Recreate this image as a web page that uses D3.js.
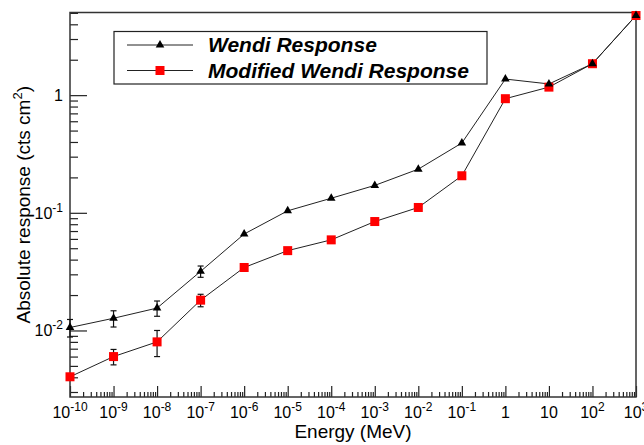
<!DOCTYPE html>
<html>
<head>
<meta charset="utf-8">
<script src="https://cdn.jsdelivr.net/npm/d3@7"></script>
<style>
    body { margin: 0; background: #fff; }
    text { font-family: "Liberation Sans", Arial, Helvetica, sans-serif; }
</style>
</head>
<body>
<script>
//  Chart size and plot frame
var w = 644;
var h = 445;
var padLeft = 70, padRight = 636, padTop = 12.5, padBottom = 397;

//  Data
var energies = [1e-10, 1e-9, 1e-8, 1e-7, 1e-6, 1e-5, 1e-4, 1e-3, 1e-2, 1e-1, 1, 10, 100, 1000];
var wendi = [0.0106, 0.0127, 0.0155, 0.0318, 0.066, 0.104, 0.133, 0.171, 0.235, 0.392, 1.37, 1.245, 1.85, 4.75];
var wendiErr = [0.0018, 0.002, 0.0023, 0.0035, 0, 0, 0, 0, 0, 0, 0, 0, 0, 0];
var modified = [0.00404, 0.006, 0.008, 0.0181, 0.0343, 0.0477, 0.0589, 0.0843, 0.111, 0.2065, 0.933, 1.17, 1.85, 4.75];
var modifiedErr = [0, 0.0009, 0.002, 0.0022, 0.0025, 0, 0, 0, 0, 0, 0, 0, 0, 0];

var xExp = [-10, -9, -8, -7, -6, -5, -4, -3, -2, -1, 0, 1, 2, 3];
var yExp = [-2, -1, 0];
var seriesNames = ["Wendi Response", "Modified Wendi Response"];

var xScale = d3.scaleLog()
    .domain([1e-10, 1e3])
    .range([padLeft, padRight]);

var yScale = d3.scaleLog()
    .domain([0.00272, 5.04])
    .range([padBottom, padTop]);

var svg = d3.select("body")
    .append("svg")
    .attr("width", w)
    .attr("height", h);

//  Minor tick values (2..9 in each decade)
function minorTicks(scale) {
    var d = scale.domain(), out = [];
    for (var e = Math.floor(Math.log10(d[0])); e <= Math.ceil(Math.log10(d[1])); e++) {
        for (var m = 2; m <= 9; m++) {
            var v = m * Math.pow(10, e);
            if (v >= d[0] * 0.999 && v <= d[1] * 1.001) out.push(v);
        }
    }
    return out;
}

//  x axis: major and minor ticks, labels drawn separately
var xMajor = xExp.map(function(e) { return Math.pow(10, e); });

svg.append("g")
    .attr("class", "axis")
    .attr("transform", "translate(0," + padBottom + ")")
    .call(d3.axisTop(xScale).tickValues(xMajor).tickSize(11).tickFormat("").tickSizeOuter(0));
svg.append("g")
    .attr("class", "axis")
    .attr("transform", "translate(0," + padBottom + ")")
    .call(d3.axisTop(xScale).tickValues(minorTicks(xScale)).tickSize(5).tickFormat("").tickSizeOuter(0));

//  y axis
var yMajor = yExp.map(function(e) { return Math.pow(10, e); });
svg.append("g")
    .attr("class", "axis")
    .attr("transform", "translate(" + padLeft + ",0)")
    .call(d3.axisRight(yScale).tickValues(yMajor).tickSize(17).tickFormat("").tickSizeOuter(0));
svg.append("g")
    .attr("class", "axis")
    .attr("transform", "translate(" + padLeft + ",0)")
    .call(d3.axisRight(yScale).tickValues(minorTicks(yScale)).tickSize(8).tickFormat("").tickSizeOuter(0));

svg.selectAll(".axis path").remove();
svg.selectAll(".axis line").attr("stroke", "#222").attr("stroke-width", 1.2);

//  Frame
svg.append("rect")
    .attr("x", padLeft)
    .attr("y", padTop)
    .attr("width", padRight - padLeft)
    .attr("height", padBottom - padTop)
    .attr("fill", "none")
    .attr("stroke", "#333")
    .attr("stroke-width", 1.5);

//  Power-of-ten label helper
function powLabel(sel, e) {
    if (e === 0) { sel.text("1"); return; }
    if (e === 1) { sel.text("10"); return; }
    sel.append("tspan").text("10");
    sel.append("tspan").attr("dy", -7).attr("font-size", 12).text(e);
}

svg.selectAll(".xlab")
    .data(xExp)
    .enter()
    .append("text")
    .attr("class", "xlab")
    .attr("x", function(d) { return xScale(Math.pow(10, d)); })
    .attr("y", 418)
    .attr("text-anchor", "middle")
    .attr("font-size", 16)
    .each(function(d) { powLabel(d3.select(this), d); });

svg.selectAll(".ylab")
    .data(yExp)
    .enter()
    .append("text")
    .attr("class", "ylab")
    .attr("x", 63)
    .attr("y", function(d) { return yScale(Math.pow(10, d)) + 6; })
    .attr("text-anchor", "end")
    .attr("font-size", 16)
    .each(function(d) { powLabel(d3.select(this), d); });

//  Axis titles
svg.append("text")
    .attr("x", (padLeft + padRight) / 2)
    .attr("y", 438)
    .attr("text-anchor", "middle")
    .attr("font-size", 19)
    .text("Energy (MeV)");

var yTitle = svg.append("text")
    .attr("transform", "translate(30," + ((padTop + padBottom) / 2) + ") rotate(-90)")
    .attr("text-anchor", "middle")
    .attr("font-size", 19);
yTitle.append("tspan").text("Absolute response (cts cm");
yTitle.append("tspan").attr("dy", -8).attr("font-size", 13).text("2");
yTitle.append("tspan").attr("dy", 8).text(")");

//  Series drawing
var line = d3.line()
    .x(function(d) { return xScale(d[0]); })
    .y(function(d) { return yScale(d[1]); });

function drawSeries(vals, errs, cls) {
    var pts = energies.map(function(e, i) { return [e, vals[i], errs[i]]; });

    var eb = svg.selectAll("." + cls + "-err")
        .data(pts.filter(function(d) { return d[2] > 0; }))
        .enter()
        .append("g")
        .attr("class", cls + "-err")
        .attr("stroke", "#111")
        .attr("stroke-width", 1.2);
    eb.append("line")
        .attr("x1", function(d) { return xScale(d[0]); })
        .attr("x2", function(d) { return xScale(d[0]); })
        .attr("y1", function(d) { return yScale(d[1] + d[2]); })
        .attr("y2", function(d) { return yScale(d[1] - d[2]); });
    eb.selectAll(".cap")
        .data(function(d) { return [d[1] + d[2], d[1] - d[2]].map(function(v) { return [d[0], v]; }); })
        .enter()
        .append("line")
        .attr("x1", function(d) { return xScale(d[0]) - 3; })
        .attr("x2", function(d) { return xScale(d[0]) + 3; })
        .attr("y1", function(d) { return yScale(d[1]); })
        .attr("y2", function(d) { return yScale(d[1]); });

    svg.append("path")
        .datum(pts)
        .attr("d", line)
        .attr("fill", "none")
        .attr("stroke", "#222")
        .attr("stroke-width", 1);
    return pts;
}

var wPts = drawSeries(wendi, wendiErr, "wendi");
var mPts = drawSeries(modified, modifiedErr, "mod");

//  Markers: red squares and black triangles
var tri = d3.symbol().type(d3.symbolTriangle).size(32);

svg.selectAll(".sq")
    .data(mPts)
    .enter()
    .append("rect")
    .attr("class", "sq")
    .attr("x", function(d) { return xScale(d[0]) - 4.5; })
    .attr("y", function(d) { return yScale(d[1]) - 4.5; })
    .attr("width", 9)
    .attr("height", 9)
    .attr("fill", "#f00");

svg.selectAll(".tri")
    .data(wPts)
    .enter()
    .append("path")
    .attr("class", "tri")
    .attr("d", tri)
    .attr("transform", function(d) { return "translate(" + xScale(d[0]) + "," + yScale(d[1]) + ")"; })
    .attr("fill", "#000");

//  Legend
var lg = svg.append("g");
lg.append("rect")
    .attr("x", 114)
    .attr("y", 31.5)
    .attr("width", 373)
    .attr("height", 52.5)
    .attr("fill", "#fff")
    .attr("stroke", "#222")
    .attr("stroke-width", 1.2);

var rows = lg.selectAll(".row")
    .data(seriesNames)
    .enter()
    .append("g")
    .attr("transform", function(d, i) { return "translate(0," + (45 + i * 25.5) + ")"; });
rows.append("line")
    .attr("x1", 127).attr("x2", 193)
    .attr("stroke", "#222").attr("stroke-width", 1);
rows.append("text")
    .attr("x", 208)
    .attr("y", 7)
    .attr("font-size", 21)
    .attr("font-weight", "bold")
    .attr("font-style", "italic")
    .text(function(d) { return d; });
rows.filter(function(d, i) { return i === 0; })
    .append("path")
    .attr("d", tri)
    .attr("transform", "translate(160,0)");
rows.filter(function(d, i) { return i === 1; })
    .append("rect")
    .attr("x", 155.5).attr("y", -4.5)
    .attr("width", 9).attr("height", 9)
    .attr("fill", "#f00");
</script>
</body>
</html>
